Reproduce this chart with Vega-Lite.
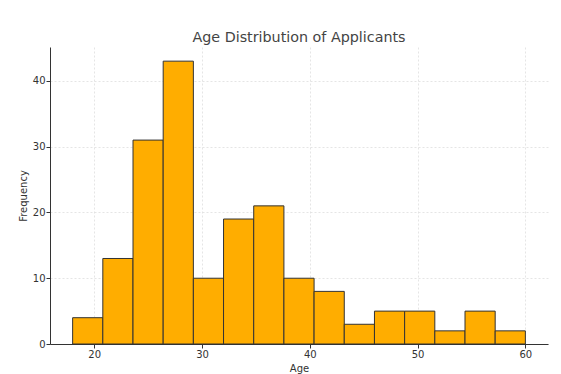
{
  "$schema": "https://vega.github.io/schema/vega-lite/v6.json",
  "autosize": "none",
  "width": 498,
  "height": 297,
  "padding": {"left": 50, "top": 47, "right": 13, "bottom": 30},
  "background": "white",
  "config": {
    "view": {"stroke": null},
    "font": "DejaVu Sans",
    "axis": {
      "labelFont": "DejaVu Sans",
      "titleFont": "DejaVu Sans",
      "labelFontSize": 10,
      "titleFontSize": 10,
      "labelColor": "#333333",
      "titleColor": "#333333",
      "titleFontWeight": "normal",
      "domainColor": "#333333",
      "domainWidth": 1,
      "tickColor": "#333333",
      "tickSize": 4,
      "labelPadding": 1,
      "gridColor": "#dedede",
      "gridDash": [2, 2],
      "gridWidth": 0.8
    }
  },
  "title": {
    "text": "Age Distribution of Applicants",
    "fontSize": 14.3,
    "fontWeight": "normal",
    "color": "#444444",
    "font": "DejaVu Sans",
    "offset": 2
  },
  "data": {
    "values": [
      {"start": 18.0, "end": 20.8, "count": 4},
      {"start": 20.8, "end": 23.6, "count": 13},
      {"start": 23.6, "end": 26.4, "count": 31},
      {"start": 26.4, "end": 29.2, "count": 43},
      {"start": 29.2, "end": 32.0, "count": 10},
      {"start": 32.0, "end": 34.8, "count": 19},
      {"start": 34.8, "end": 37.6, "count": 21},
      {"start": 37.6, "end": 40.4, "count": 10},
      {"start": 40.4, "end": 43.2, "count": 8},
      {"start": 43.2, "end": 46.0, "count": 3},
      {"start": 46.0, "end": 48.8, "count": 5},
      {"start": 48.8, "end": 51.6, "count": 5},
      {"start": 51.6, "end": 54.4, "count": 2},
      {"start": 54.4, "end": 57.2, "count": 5},
      {"start": 57.2, "end": 60.0, "count": 2}
    ]
  },
  "mark": {"type": "rect", "fill": "#FFAD00", "stroke": "#333333", "strokeWidth": 1},
  "encoding": {
    "x": {
      "field": "start",
      "type": "quantitative",
      "scale": {"domain": [15.9, 62.1], "nice": false, "zero": false},
      "axis": {"values": [20, 30, 40, 50, 60], "title": "Age", "titlePadding": 4}
    },
    "x2": {"field": "end"},
    "y": {
      "field": "count",
      "type": "quantitative",
      "scale": {"domain": [0, 45.15], "nice": false},
      "axis": {"values": [0, 10, 20, 30, 40], "title": "Frequency", "titlePadding": 4}
    },
    "y2": {"datum": 0}
  }
}
